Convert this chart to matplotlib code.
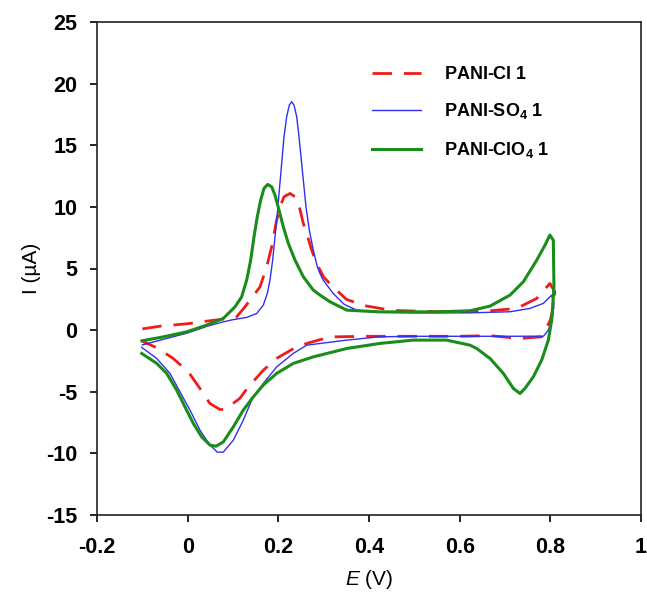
import matplotlib
matplotlib.use("Agg")
import matplotlib.pyplot as plt

plt.rcParams['font.family'] = ['Liberation Sans', 'DejaVu Sans']
plt.rcParams['mathtext.fontset'] = 'custom'
plt.rcParams['mathtext.rm'] = 'Liberation Sans'
plt.rcParams['mathtext.it'] = 'Liberation Sans:italic'
plt.rcParams['mathtext.bf'] = 'Liberation Sans:bold'
plt.rcParams['axes.unicode_minus'] = False

# ---- data ----
labels = [r'PANI-Cl$\mathbf{\ }$1', r'PANI-SO$_\mathbf{4}$ 1', r'PANI-ClO$_\mathbf{4}$ 1']

# PANI-Cl 1 (red dashed): anodic sweep -0.1 -> 0.8, then cathodic back to -0.1
cl_E = [-0.10, -0.061, -0.032, 0.005, 0.042, 0.08, 0.108, 0.1265, 0.1596, 0.1743, 0.1853, 0.1963,
        0.2037, 0.2125, 0.2257, 0.2368, 0.2463, 0.2551, 0.2648, 0.2736, 0.2846, 0.30, 0.321, 0.35,
        0.388, 0.45, 0.55, 0.62, 0.667, 0.7257, 0.77, 0.799,
        0.81, 0.8066, 0.80, 0.7809, 0.733, 0.667, 0.60, 0.50, 0.40, 0.314, 0.2626, 0.24, 0.196,
        0.167, 0.134, 0.115, 0.082, 0.071, 0.049, 0.027, 0.0014, -0.032, -0.065, -0.10]
cl_I = [0.10, 0.32, 0.41, 0.54, 0.73, 0.90, 1.08, 1.89, 3.51, 5.14, 6.76, 8.93,
        10.01, 10.82, 11.09, 10.82, 10.01, 8.66, 7.57, 6.49, 5.41, 4.3, 3.5, 2.5,
        2.0, 1.6, 1.5, 1.5, 1.57, 1.76, 2.57, 3.79,
        3.11, 1.89, 0.8, -0.54, -0.68, -0.45, -0.5, -0.5, -0.5, -0.55, -1.08, -1.36, -2.30,
        -3.25, -4.6, -5.54, -6.44, -6.44, -5.95, -4.73, -3.38, -2.30, -1.49, -0.9]

# PANI-SO4 1 (blue thin)
so4_E = [-0.10, -0.054, -0.002, 0.042, 0.071, 0.10, 0.1302, 0.1523, 0.1669, 0.1757, 0.1816, 0.1875,
         0.1926, 0.1978, 0.2022, 0.2074, 0.2125, 0.2184, 0.2242, 0.2295, 0.2346, 0.2405, 0.2456,
         0.25, 0.2551, 0.2610, 0.2683, 0.2771, 0.2860, 0.2919, 0.299, 0.321, 0.345, 0.373, 0.42,
         0.50, 0.62, 0.711, 0.755, 0.7845, 0.803,
         0.808, 0.805, 0.7956, 0.785, 0.70, 0.60, 0.50, 0.424, 0.351, 0.2626, 0.233, 0.1964, 0.1668,
         0.1412, 0.1227, 0.1007, 0.0786, 0.0654, 0.0493, 0.0272, 0.0051, -0.0169, -0.039, -0.0683,
         -0.1014]
so4_I = [-1.2, -0.75, -0.25, 0.3, 0.6, 0.85, 1.03, 1.35, 2.03, 2.98, 4.06, 5.68,
         7.57, 9.47, 11.36, 13.53, 15.69, 17.31, 18.26, 18.53, 18.26, 17.31, 15.69,
         14.07, 12.17, 10.01, 8.12, 6.49, 5.14, 4.6, 4.05, 2.98, 2.1, 1.62, 1.45,
         1.4, 1.4, 1.49, 1.76, 2.17, 2.84,
         2.17, 1.08, 0.0, -0.49, -0.5, -0.5, -0.5, -0.54, -0.81, -1.22, -1.89, -2.98, -4.33,
         -5.68, -7.31, -8.93, -9.9, -9.9, -9.33, -8.12, -6.49, -5.01, -3.51, -2.30,
         -1.40]

# PANI-ClO4 1 (green)
clo4_E = [-0.101, -0.054, -0.002, 0.042, 0.0786, 0.1044, 0.1191, 0.1302, 0.1390, 0.1463, 0.1536,
          0.1610, 0.1684, 0.1765, 0.1853, 0.1926, 0.2015, 0.2110, 0.2220, 0.2368, 0.2551, 0.2771,
          0.2919, 0.314, 0.351, 0.424, 0.55, 0.6228, 0.667, 0.711, 0.7404, 0.770, 0.7883, 0.799,
          0.8066, 0.808, 0.803, 0.7956, 0.7809, 0.7625, 0.744, 0.733, 0.7184, 0.6963, 0.667,
          0.6375, 0.6228, 0.571, 0.498, 0.424, 0.351, 0.277, 0.2330, 0.1964, 0.1668, 0.1448,
          0.1227, 0.1007, 0.0786, 0.0625, 0.0493, 0.0309, 0.0125, -0.0059, -0.0242, -0.0462,
          -0.0683, -0.1014]
clo4_I = [-0.87, -0.55, -0.14, 0.41, 0.95, 1.89, 2.70, 4.06, 5.68, 7.57, 9.20,
          10.55, 11.50, 11.82, 11.63, 10.96, 9.74, 8.38, 7.04, 5.68, 4.33, 3.25,
          2.84, 2.3, 1.62, 1.48, 1.48, 1.57, 1.95, 2.84, 3.92, 5.68, 6.90, 7.71,
          7.3, 3.51, 0.81, -0.81, -2.43, -3.79, -4.73, -5.14, -4.73, -3.51, -2.30,
          -1.49, -1.22, -0.81, -0.81, -1.08, -1.49, -2.17, -2.70, -3.51, -4.46, -5.41,
          -6.49, -7.85, -9.07, -9.42, -9.33, -8.66, -7.57, -6.23, -4.87, -3.51,
          -2.70, -1.89]

x_ticks = [-0.2, 0, 0.2, 0.4, 0.6, 0.8, 1.0]
x_tick_labels = ['-0.2', '0', '0.2', '0.4', '0.6', '0.8', '1']
y_ticks = [-15, -10, -5, 0, 5, 10, 15, 20, 25]

# ---- figure ----
fig = plt.figure(figsize=(6.47, 5.94), dpi=100)
ax = fig.add_axes([97/647, 1-515/594, (641-97)/647, (515-22)/594])

ax.plot(cl_E, cl_I, color='#ee1c1c', lw=2.0, dashes=(7, 4.3), label=labels[0])
ax.plot(so4_E, so4_I, color='#3030ee', lw=1.0, label=labels[1])
ax.plot(clo4_E, clo4_I, color='#1a8c1a', lw=2.2, label=labels[2])

ax.set_xlim(-0.2, 1.0)
ax.set_ylim(-15, 25)
ax.set_xticks(x_ticks)
ax.set_xticklabels(x_tick_labels)
ax.set_yticks(y_ticks)
ax.tick_params(direction='out', length=5, width=1.2, labelsize=15.5, top=False, right=False)
ax.tick_params(axis='x', pad=11)
ax.tick_params(axis='y', pad=9)
for lab in ax.get_xticklabels() + ax.get_yticklabels():
    lab.set_fontweight('bold')
for s in ax.spines.values():
    s.set_linewidth(1.2)
    s.set_color('#222222')

ax.set_xlabel(r'$\it{E}$ (V)', fontsize=15, labelpad=7)
ax.set_ylabel('I (µA)', fontsize=15, labelpad=4)

leg = ax.legend(loc='upper left', bbox_to_anchor=(0.505, 0.911), frameon=False,
                prop={'size': 13, 'weight': 'bold'}, handlelength=2.75,
                handletextpad=1.25, labelspacing=1.03, borderaxespad=0, borderpad=0)

fig.savefig('out.png', dpi=100)
